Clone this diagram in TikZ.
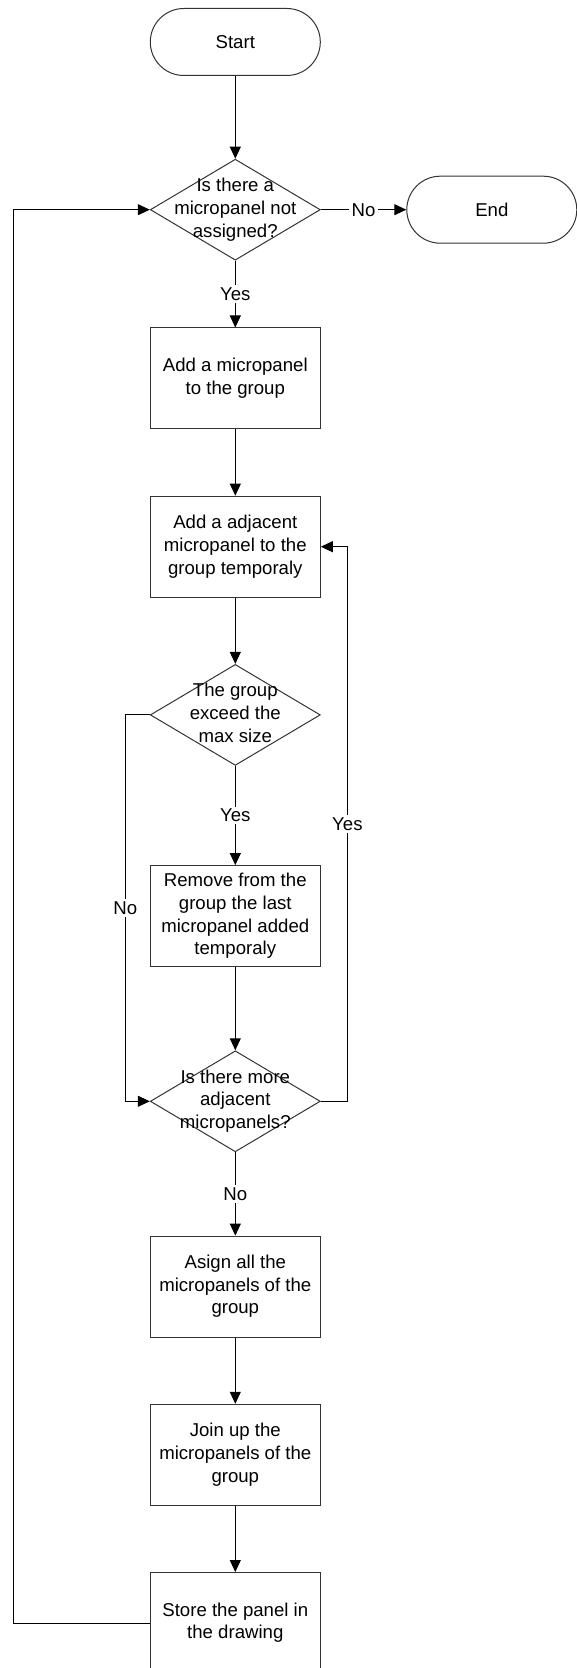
\documentclass[tikz,border=0pt]{standalone}
\usepackage{fontspec}
\setmainfont{Liberation Sans}
\usetikzlibrary{shapes,arrows.meta}
\newcommand{\dtext}[1]{\smash{\makebox[0pt]{\raisebox{-2.3pt}{\begin{tabular}{@{}c@{}}#1\end{tabular}}}}}

\begin{document}
\begin{tikzpicture}[x=0.5pt,y=-0.5pt,font=\fontsize{9.3}{11.4}\selectfont]

\tikzstyle{term} = [draw=black!80,line width=0.5pt,rounded corners=16.75pt,minimum width=85pt,minimum height=33.5pt,inner sep=0]
\tikzstyle{proc} = [draw=black!80,line width=0.5pt,minimum width=85pt,minimum height=50.5pt,inner sep=0]
\tikzstyle{decision} = [draw=black!80,line width=0.5pt,diamond,minimum width=85pt,minimum height=50.5pt,inner sep=0]
\tikzstyle{arr} = [line width=0.5pt,-{Triangle[length=6pt,width=5.5pt]}]
\tikzstyle{lbl} = [fill=white,inner sep=1.2pt]

\useasboundingbox (0,0) rectangle (577,1668);

\node [term] (start) at (235.3,42) {Start};
\node [decision] (notassigned) at (235.3,209.7) {\dtext{Is there a\\micropanel not\\assigned?}};
\node [term] (end) at (491.8,209.7) {End};
\node [proc] (addpanel) at (235.3,378.5) {\begin{tabular}{@{}c@{}}Add a micropanel\\to the group\end{tabular}};
\node [proc] (addadjacent) at (235.3,546.7) {\begin{tabular}{@{}c@{}}Add a adjacent\\micropanel to the\\group temporaly\end{tabular}};
\node [decision] (maxsize) at (235.3,714.9) {\dtext{The group\\exceed the\\max size}};
\node [proc] (remove) at (235.3,916.1) {\begin{tabular}{@{}c@{}}Remove from the\\group the last\\micropanel added\\temporaly\end{tabular}};
\node [decision] (moreadjacent) at (235.3,1101.3) {\dtext{Is there more\\adjacent\\micropanels?}};
\node [proc] (asign) at (235.3,1286.6) {\begin{tabular}{@{}c@{}}Asign all the\\micropanels of the\\group\end{tabular}};
\node [proc] (joinup) at (235.3,1454.8) {\begin{tabular}{@{}c@{}}Join up the\\micropanels of the\\group\end{tabular}};
\node [proc] (store) at (235.3,1623) {\begin{tabular}{@{}c@{}}Store the panel in\\the drawing\end{tabular}};

\draw[arr] (start) -- (notassigned);
\draw[arr] (notassigned) -- node[lbl] {No} (end);
\draw[arr] (notassigned) -- node[lbl] {Yes} (addpanel);
\draw[arr] (addpanel) -- (addadjacent);
\draw[arr] (addadjacent) -- (maxsize);
\draw[arr] (maxsize) -- node[lbl] {Yes} (remove);
\draw[arr] (remove) -- (moreadjacent);
\draw[arr] (moreadjacent) -- node[lbl] {No} (asign);
\draw[arr] (asign) -- (joinup);
\draw[arr] (joinup) -- (store);

\draw[arr] (maxsize.west) -- ++(-24.5,0) |- node[lbl,pos=0.25] {No} (moreadjacent.west);
\draw[arr] (moreadjacent.east) -- ++(26.6,0) |- node[lbl,pos=0.25] {Yes} (addadjacent.east);
\draw[arr] (store.west) -- ++(-136.3,0) |- (notassigned.west);

\end{tikzpicture}
\end{document}
